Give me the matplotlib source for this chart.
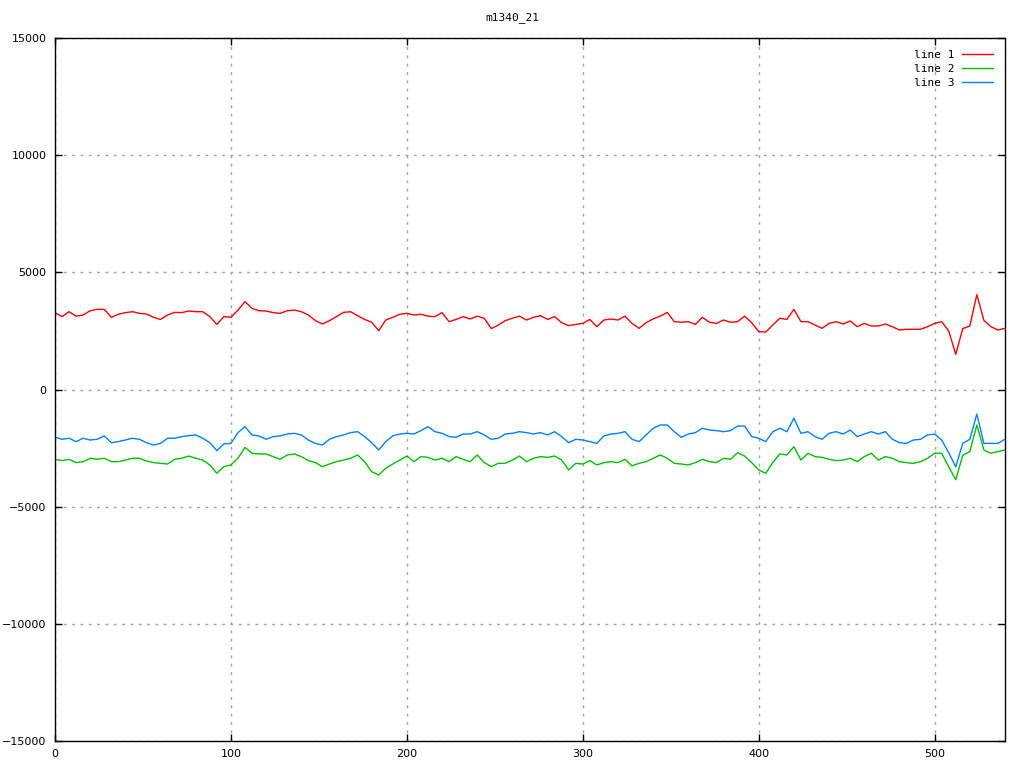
import numpy as np
import matplotlib
matplotlib.use("Agg")
import matplotlib.pyplot as plt

# sample index, every 4th point
X = np.arange(0, 541, 4)

LINE1 = [3280, 3110, 3320, 3130, 3180, 3360, 3420, 3420, 3080, 3210, 3280, 3320, 3250, 3220,
         3080, 2990, 3180, 3290, 3280, 3350, 3320, 3320, 3110, 2780, 3110, 3080, 3390, 3750,
         3460, 3360, 3350, 3280, 3250, 3360, 3390,
         3320, 3180, 2940, 2795, 2940, 3110, 3290, 3320, 3150, 2990, 2870, 2510, 2965, 3080,
         3210, 3250, 3180, 3210, 3130, 3110, 3280, 2895, 2990, 3110, 3010, 3130, 3040, 2600,
         2750, 2940, 3040, 3130, 2965,
         3080, 3150, 2990, 3110, 2850, 2725, 2780, 2820, 2990, 2680, 2965, 3010, 2965, 3130,
         2820, 2610, 2850, 3010, 3130, 3290, 2895, 2870, 2895, 2780, 3080, 2870, 2820, 2965,
         2870, 2895, 3130, 2850, 2470,
         2450, 2750, 3040, 2990, 3420, 2895, 2895, 2750, 2610, 2820, 2895, 2795, 2925, 2680,
         2820, 2710, 2710, 2795, 2680, 2540, 2570, 2570, 2570, 2680, 2820, 2895, 2500, 1500,
         2600, 2710, 4050, 2950, 2680, 2540, 2610]

LINE2 = [-2980, -3035, -2980, -3120, -3080, -2935, -2980, -2935, -3080, -3080, -3010, -2935,
         -2935, -3050, -3120, -3150, -3180, -2980, -2935, -2840, -2935, -3010, -3220, -3575,
         -3290, -3220, -2935, -2470, -2720, -2750, -2750, -2865, -2980, -2795, -2750,
         -2865, -3035, -3120, -3290, -3180, -3080, -3010, -2935, -2795, -3080, -3505, -3650,
         -3360, -3180, -3010, -2840, -3080, -2865, -2895, -3010, -2935, -3080, -2865, -2980,
         -3080, -2795, -3120, -3290, -3150, -3150, -3010, -2840, -3080,
         -2935, -2865, -2895, -2840, -3010, -3435, -3150, -3180, -3035, -3220, -3120, -3080,
         -3120, -2980, -3260, -3150, -3080, -2935, -2795, -2935, -3150, -3180, -3220, -3120,
         -2980, -3080, -3120, -2935, -2980, -2695, -2840, -3120, -3435,
         -3575, -3120, -2750, -2795, -2440, -3010, -2720, -2865, -2895, -2980, -3035, -3010,
         -2935, -3080, -2865, -2720, -3010, -2865, -2935, -3080, -3120, -3150, -3080, -2935,
         -2720, -2720, -3300, -3850, -2800, -2650, -1515, -2580, -2720, -2650, -2580]

LINE3 = [-2040, -2125, -2080, -2225, -2080, -2155, -2125, -1980, -2270, -2225, -2155, -2080,
         -2125, -2270, -2370, -2300, -2080, -2080, -2010, -1970, -1940, -2080, -2270, -2610,
         -2320, -2300, -1840, -1585, -1940, -1980, -2125, -2010, -1980, -1900, -1870,
         -1940, -2155, -2300, -2370, -2125, -2010, -1940, -1840, -1800, -2010, -2270, -2580,
         -2225, -1980, -1900, -1870, -1900, -1755, -1585, -1800, -1870, -2010, -2040, -1900,
         -1900, -1800, -1940, -2125, -2080, -1900, -1870, -1800, -1840,
         -1900, -1840, -1940, -1800, -2010, -2270, -2125, -2155, -2225, -2300, -1980, -1900,
         -1870, -1800, -2125, -2225, -1940, -1655, -1515, -1515, -1800, -2040, -1900, -1840,
         -1655, -1730, -1755, -1800, -1755, -1560, -1560, -2010, -2080,
         -2225, -1800, -1655, -1800, -1230, -1870, -1800, -2010, -2125, -1870, -1800, -1900,
         -1730, -2010, -1900, -1800, -1900, -1800, -2125, -2270, -2300, -2155, -2125, -1940,
         -1900, -2155, -2700, -3300, -2300, -2125, -1050, -2300, -2300, -2300, -2125]

XTICKS = [0, 100, 200, 300, 400, 500]
YTICKS = [-15000, -10000, -5000, 0, 5000, 10000, 15000]

plt.rcParams['font.family'] = ['DejaVu Sans']
plt.rcParams['font.size'] = 8

fig = plt.figure(figsize=(10.24, 7.68), dpi=100)
ax = fig.add_axes([55/1024, 1 - 741/768, 950/1024, 703/768])

ax.plot(X, LINE1, c='#ff0000', lw=1, label='line 1')
ax.plot(X, LINE2, c='#00c000', lw=1, label='line 2')
ax.plot(X, LINE3, c='#0080ff', lw=1, label='line 3')

ax.set_xlim(0, 540)
ax.set_ylim(-15000, 15000)
ax.set_xticks(XTICKS)
ax.set_yticks(YTICKS)
ax.tick_params(direction='in', top=True, right=True, length=5, width=1, pad=6, labelsize=8)
ax.grid(True, color='#a0a0a0', linestyle=(0, (2, 4)), lw=1)
for s in ax.spines.values():
    s.set_linewidth(1)

fig.text(0.5, 1 - 18/768, 'm1340_21', ha='center', va='center', fontsize=8,
         family='DejaVu Sans Mono')
leg = ax.legend(loc='upper right', frameon=False, markerfirst=False, handlelength=2.8,
                handletextpad=0.6, labelspacing=0.35, borderaxespad=0.7,
                prop={'family': 'DejaVu Sans Mono', 'size': 8})

fig.savefig('out.png', dpi=100)
